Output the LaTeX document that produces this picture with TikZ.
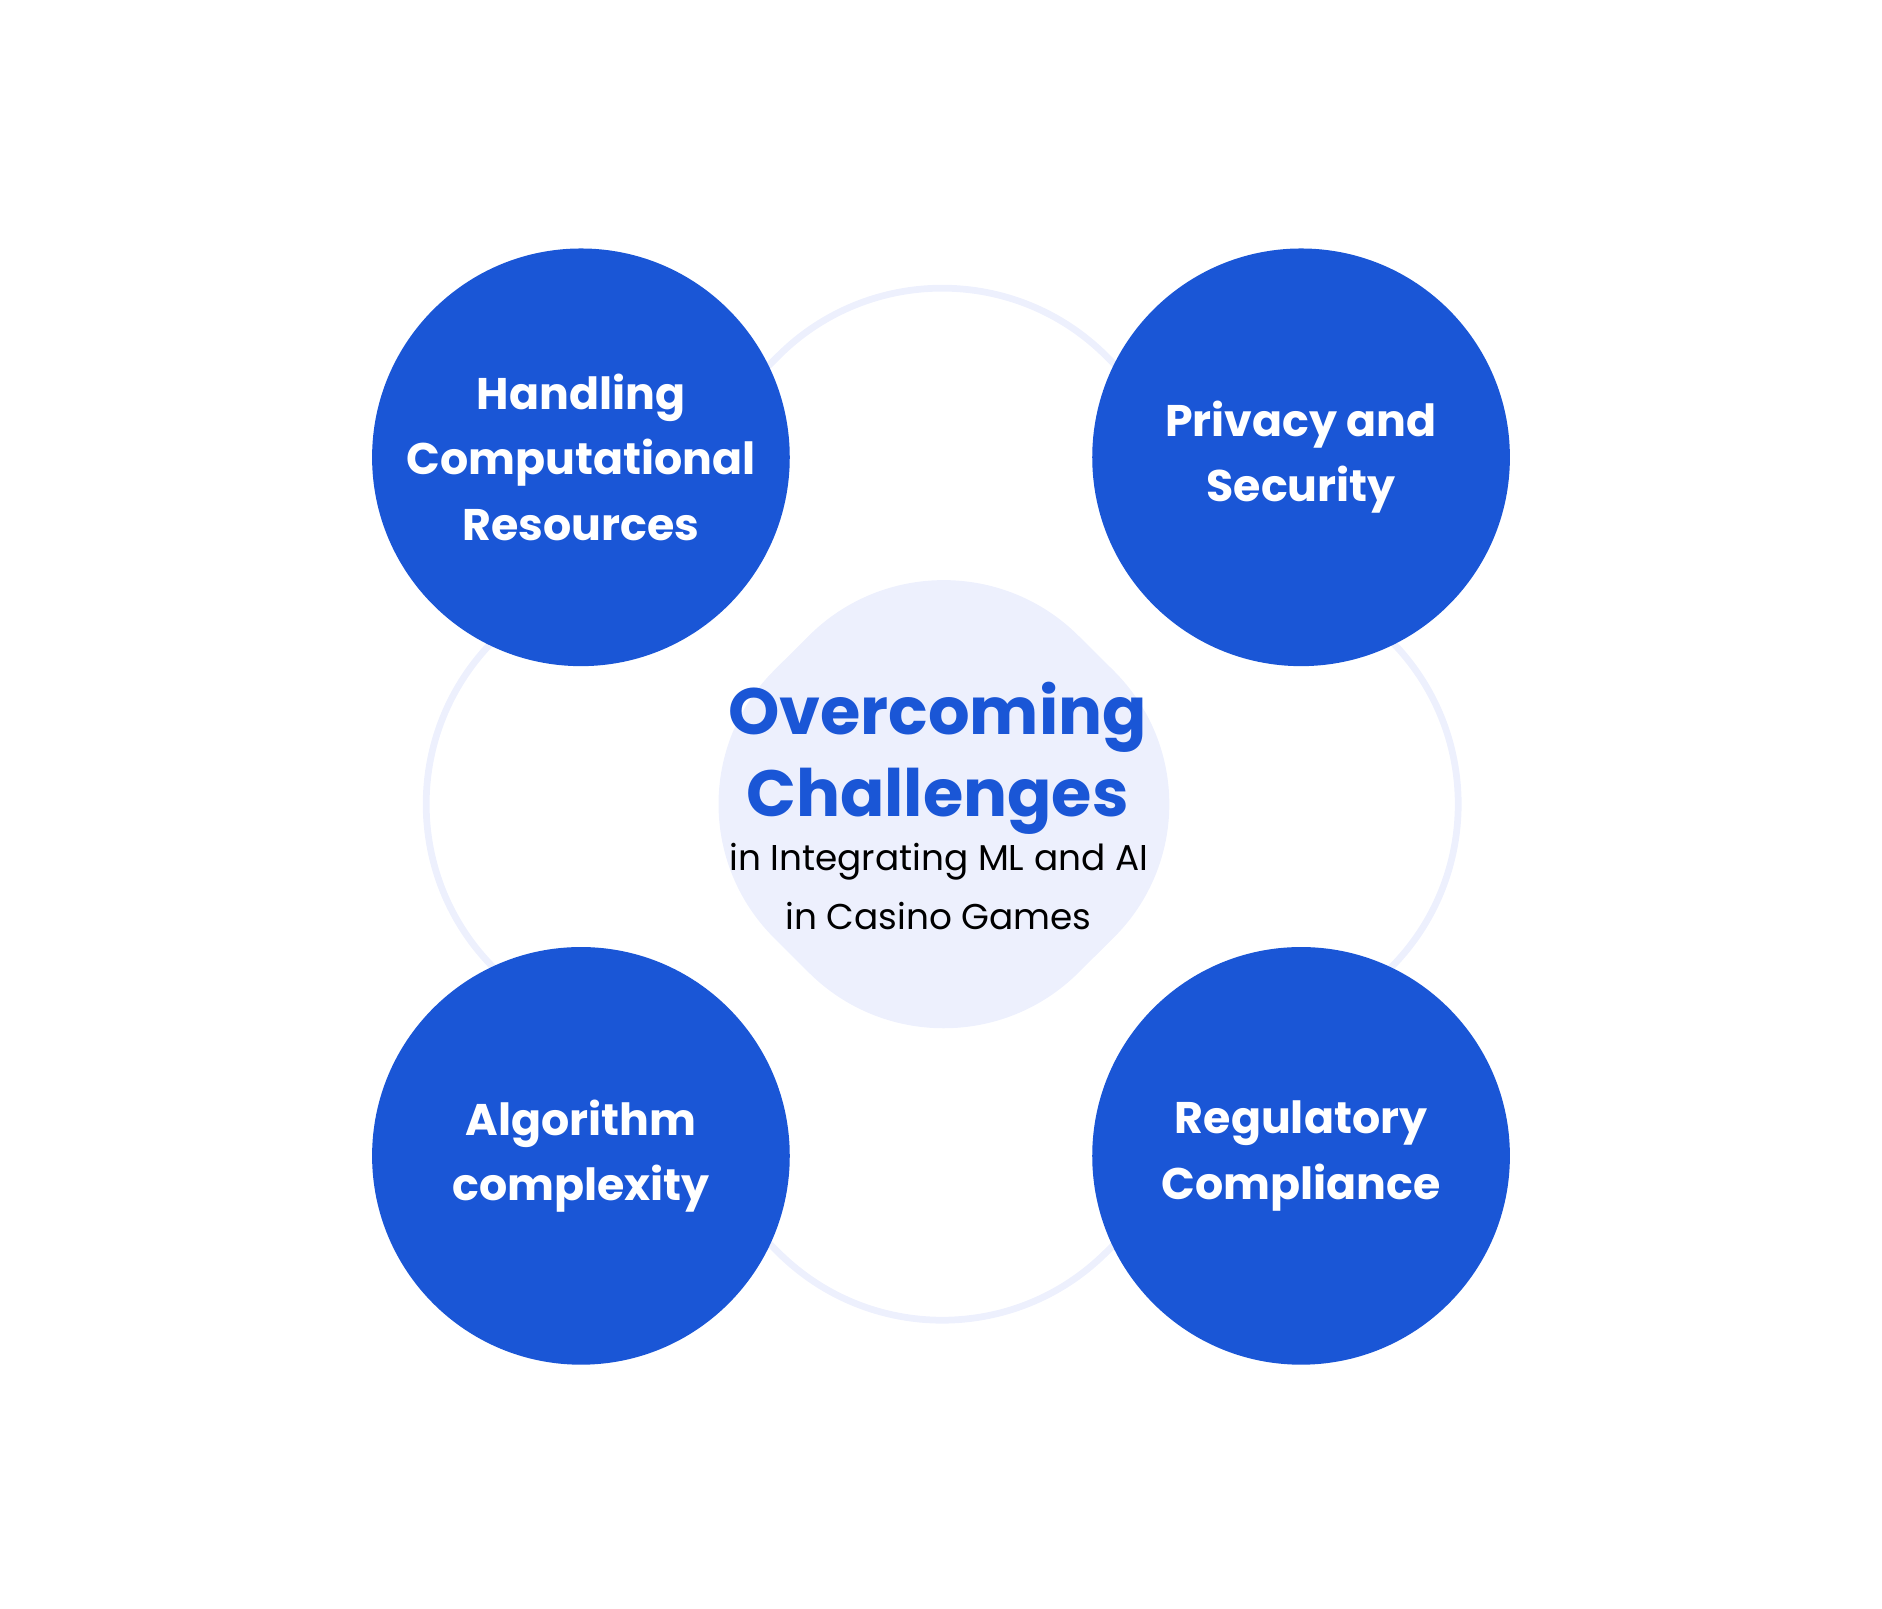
\documentclass[tikz,border=0pt]{standalone}
\usepackage{fontspec}
\setmainfont{Poppins}
\definecolor{chblue}{HTML}{1A56D6}
\definecolor{chpale}{HTML}{EDF0FD}
\tikzset{
  challenge/.style={circle,fill=chblue,minimum size=34.8mm,inner sep=0pt,
    text=white,font=\bfseries\fontsize{10.5}{15.5}\selectfont,align=center},
}
\begin{document}
\begin{tikzpicture}[x=0.1mm,y=-0.1mm]
                \useasboundingbox (0,0) rectangle (1568,1340);
                %% outer frame
                \draw[chpale,line width=1.6pt,rounded corners=55] (785,160) -- (1295,670) -- (785,1180) -- (275,670) -- cycle;
                %% centre
                \fill[chpale,rounded corners=45] (786,418) -- (1040,670) -- (786,922) -- (533,670) -- cycle;
                \node[text=chblue,font=\bfseries\fontsize{15.5}{19.5}\selectfont,align=center] (title) at (781,632) {Overcoming\\Challenges};
                \node[font=\fontsize{8.5}{14}\selectfont,align=center,anchor=north] (sub) at (782,690) {in Integrating ML and AI\\in Casino Games};
                %% challenges
                \node[challenge] (comp) at (484,381) {Handling\\Computational\\Resources};
                \node[challenge] (priv) at (1084,381) {Privacy and\\Security};
                \node[challenge] (algo) at (484,963) {Algorithm\\complexity};
                \node[challenge] (regu) at (1084,963) {Regulatory\\Compliance};
            \end{tikzpicture}
\end{document}
